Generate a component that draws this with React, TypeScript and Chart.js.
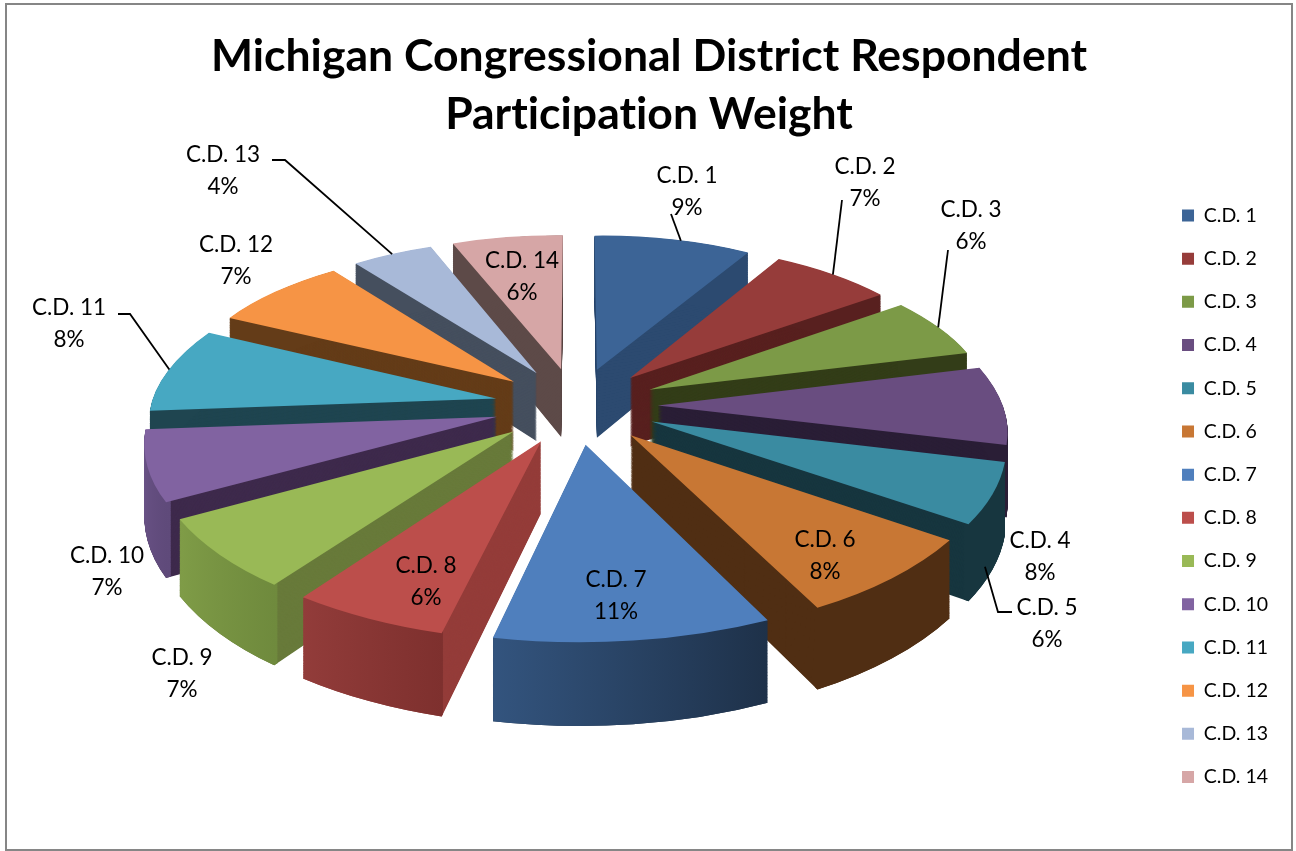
import React, { useEffect, useRef } from "react";
import { Chart, registerables } from "chart.js";

Chart.register(...registerables);

const districts = ["C.D. 1","C.D. 2","C.D. 3","C.D. 4","C.D. 5","C.D. 6","C.D. 7","C.D. 8","C.D. 9","C.D. 10","C.D. 11","C.D. 12","C.D. 13","C.D. 14"];
const shares = [8.5,6.6,6.0,7.7,5.9,7.95,11.0,6.25,6.95,6.9,8.4,7.4,4.4,6.0];
const topColors = ["#3c6496","#963c3a","#7c9a47","#694d80","#3a8ba1","#c87734","#4f7fbd","#bc4e4b","#99b956","#8163a1","#47a8c2","#f69445","#a8b9d8","#d6a6a6"];
const wallColors = ["#2c4a70","#58201f","#333d18","#2a1e36","#17363f","#502e13","#1e3149","#943c39","#687a3a","#3e2a4c","#1f4550","#643c18","#454f5e","#5d4a48"];
const rimStart = ["#2c4a70","#58201f","#333d18","#2a1e36","#17363f","#502e13","#1e3149","#7e302e","#6f8a3d","#5f4a7a","#1f4550","#643c18","#454f5e","#5d4a48"];
const rimEnd = ["#2c4a70","#58201f","#333d18","#2a1e36","#17363f","#502e13","#33547e","#923c3a","#7f9c47","#6c5489","#1f4550","#643c18","#454f5e","#5d4a48"];
const titleLines = ["Michigan Congressional District Respondent", "Participation Weight"];

// placement of the data-label text (centre x, centre y of first line)
const labelSpots = [[687,175.5],[865,166.5],[971,209.5],[1040,540.5],[1047,607.5],[825,539.5],[616,579.5],[426,565.5],[182,657.5],[107,555.5],[69,307.5],[236,244.5],[223,154.5],[522,260.5]];
// leader lines: slice index, the label-side points, where on the rim (0..1) and at what height they end
const leaders = [
  { i: 0, from: [[671,214]], t: 0.55, z: 0 },
  { i: 1, from: [[842,200]], t: 0.5, z: 0 },
  { i: 2, from: [[948,250]], t: 0.5, z: 0 },
  { i: 4, from: [[1012,612],[998,612]], t: 0.7, z: 0.8 },
  { i: 10, from: [[118,314],[130,314]], t: 0.5, z: 0 },
  { i: 12, from: [[272,160],[285,160]], t: 0.5, z: 0 },
];

// projection of the pie's plane
const view = { cx: 576, cy: 405.5, rx: 345, ry: 161, a: 0.134, explode: 0.237, depth: 70 };
const FONT = "Lato";

function project(X: number, Y: number, z: number) {
  const w = 1 - view.a * Y;
  return {
    x: view.cx + (view.rx * X) / w,
    y: view.cy + (view.ry * Y) / w + (view.depth * z) / w,
  };
}

function withOptions(el: any, bg: any, fn: () => void) {
  const orig = el.options;
  el.options = Object.create(orig, {
    backgroundColor: { value: bg, enumerable: true },
    borderWidth: { value: 0, enumerable: true },
  });
  fn();
  el.options = orig;
}

function applySliceTransform(ctx: CanvasRenderingContext2D, el: any, z: number) {
  const s = el.startAngle, t = el.endAngle, m = (s + t) / 2, R = el.outerRadius;
  const ex = view.explode * Math.cos(m), ey = view.explode * Math.sin(m);
  const p0 = project(ex, ey, z);
  const p1 = project(ex + Math.cos(s), ey + Math.sin(s), z);
  const p2 = project(ex + Math.cos(t), ey + Math.sin(t), z);
  const ux = R * Math.cos(s), uy = R * Math.sin(s), vx = R * Math.cos(t), vy = R * Math.sin(t);
  const det = ux * vy - uy * vx;
  const ax = p1.x - p0.x, ay = p1.y - p0.y, bx = p2.x - p0.x, by = p2.y - p0.y;
  const A = (ax * vy - bx * uy) / det;
  const C = (-ax * vx + bx * ux) / det;
  const B = (ay * vy - by * uy) / det;
  const D = (-ay * vx + by * ux) / det;
  ctx.transform(A, B, C, D, p0.x - A * el.x - C * el.y, p0.y - B * el.x - D * el.y);
}

function drawPie(chart: any) {
  const ctx: CanvasRenderingContext2D = chart.ctx;
  const arcs: any[] = chart.getDatasetMeta(0).data;
  const order = arcs
    .map((el, i) => ({ el, i, k: Math.sin((el.startAngle + el.endAngle) / 2) }))
    .sort((p, q) => p.k - q.k);
  const layers = 90;
  for (const { el, i } of order) {
    const R = el.outerRadius, inner = el.innerRadius;
    for (let n = layers; n > 0; n--) {
      ctx.save();
      applySliceTransform(ctx, el, n / layers);
      withOptions(el, wallColors[i], () => el.draw(ctx));
      ctx.restore();
    }
    const g = ctx.createLinearGradient(
      el.x + R * Math.cos(el.startAngle), el.y + R * Math.sin(el.startAngle),
      el.x + R * Math.cos(el.endAngle), el.y + R * Math.sin(el.endAngle));
    g.addColorStop(0, rimStart[i]);
    g.addColorStop(1, rimEnd[i]);
    el.innerRadius = R * 0.985;
    for (let n = layers; n > 0; n--) {
      ctx.save();
      applySliceTransform(ctx, el, n / layers);
      withOptions(el, g, () => el.draw(ctx));
      ctx.restore();
    }
    el.innerRadius = inner;
    ctx.save();
    applySliceTransform(ctx, el, 0);
    withOptions(el, topColors[i], () => el.draw(ctx));
    ctx.restore();
  }
}

const pie3d = {
  id: "pie3d",
  beforeDraw(chart: any) {
    const ctx = chart.ctx;
    ctx.save();
    ctx.fillStyle = "#ffffff";
    ctx.fillRect(0, 0, chart.width, chart.height);
    ctx.strokeStyle = "#868686";
    ctx.lineWidth = 2;
    ctx.strokeRect(6, 4, 1286, 846);
    ctx.restore();
    ctx.letterSpacing = "0.01px";
  },
  beforeDatasetDraw(chart: any) {
    drawPie(chart);
    return false;
  },
  afterDatasetsDraw(chart: any) {
    const ctx: CanvasRenderingContext2D = chart.ctx;
    const arcs: any[] = chart.getDatasetMeta(0).data;
    ctx.save();
    ctx.strokeStyle = "#000000";
    ctx.lineWidth = 1.8;
    for (const l of leaders) {
      const el = arcs[l.i];
      const m = (el.startAngle + el.endAngle) / 2;
      const a = el.startAngle + l.t * (el.endAngle - el.startAngle);
      const p = project(view.explode * Math.cos(m) + Math.cos(a), view.explode * Math.sin(m) + Math.sin(a), l.z);
      ctx.beginPath();
      l.from.forEach((q, n) => (n ? ctx.lineTo(q[0], q[1]) : ctx.moveTo(q[0], q[1])));
      ctx.lineTo(p.x, p.y);
      ctx.stroke();
    }
    ctx.fillStyle = "#000000";
    ctx.font = `22.5px ${FONT}`;
    ctx.textAlign = "center";
    ctx.textBaseline = "middle";
    districts.forEach((name, i) => {
      const [x, y] = labelSpots[i];
      ctx.fillText(name, x, y);
      ctx.fillText(`${Math.round(shares[i])}%`, x, y + 32);
    });
    ctx.restore();
  },
};

export default function App() {
  const ref = useRef<HTMLCanvasElement>(null);
  useEffect(() => {
    document.body.style.margin = "0";
    const chart = new Chart(ref.current as HTMLCanvasElement, {
      type: "pie",
      data: {
        labels: districts,
        datasets: [{ data: shares, backgroundColor: topColors, borderWidth: 0 }],
      },
      options: {
        responsive: false,
        animation: false,
        events: [],
        layout: { padding: { left: 20, right: 18, top: 0, bottom: 4 } },
        plugins: {
          title: {
            display: true,
            text: titleLines,
            color: "#000000",
            font: { family: FONT, size: 44.5, weight: "bold", lineHeight: 1.32 },
            padding: { top: 27, bottom: 1 },
          },
          legend: {
            position: "right",
            fullSize: false,
            labels: {
              boxWidth: 12,
              boxHeight: 12,
              padding: 23.7,
              color: "#000000",
              font: { family: FONT, size: 19.5 },
            },
          },
          tooltip: { enabled: false },
        },
      },
      plugins: [pie3d],
    } as any);
    return () => chart.destroy();
  }, []);
  return <canvas ref={ref} width={1296} height={851} style={{ display: "block" }} />;
}
